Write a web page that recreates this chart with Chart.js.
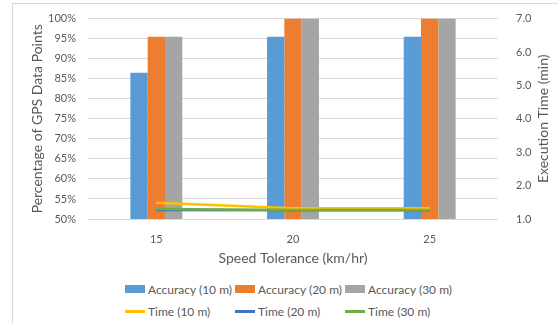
<!DOCTYPE html>
<html>
<head>
<meta charset="utf-8">
<script src="https://cdn.jsdelivr.net/npm/chart.js@4/dist/chart.umd.min.js"></script>
<style>
  body { margin: 0; background: #fff; }
  #frame { position: absolute; left: 12px; top: 3px; width: 560px; height: 330px;
           border-left: 1px solid #d9d9d9; border-top: 1px solid #d9d9d9; }
  #wrap { position: absolute; left: 0; top: 0; width: 558px; height: 270px; }
  #legend { position: absolute; left: 125px; top: 283px; display: grid;
            grid-template-columns: 110px 110px 110px; row-gap: 10px;
            font-family: Lato, sans-serif; font-size: 12px; color: #595959; }
  .item { display: flex; align-items: center; height: 12px; white-space: nowrap; }
  .sw { width: 20px; margin-right: 3px; }
  .box { height: 8px; }
  .ln { height: 3px; }
</style>
</head>
<body>
<div id="frame"></div>
<div id="wrap"><canvas id="chart"></canvas></div>
<div id="legend"></div>
<script>
// speed tolerance categories
var speeds = ["15", "20", "25"];

// accuracy (% of GPS data points)
var acc10 = [86.5, 95.5, 95.5];
var acc20 = [95.5, 100, 100];
var acc30 = [95.5, 100, 100];

// execution time (min)
var time10 = [1.49, 1.32, 1.32];
var time20 = [1.27, 1.26, 1.26];
var time30 = [1.30, 1.27, 1.27];

var textColor = '#595959';
Chart.defaults.font.family = 'Lato, sans-serif';
Chart.defaults.color = textColor;

var datasets = [
    { type: 'bar', label: 'Accuracy (10 m)', data: acc10, backgroundColor: '#5B9BD5', yAxisID: 'y', order: 1 },
    { type: 'bar', label: 'Accuracy (20 m)', data: acc20, backgroundColor: '#ED7D31', yAxisID: 'y', order: 1 },
    { type: 'bar', label: 'Accuracy (30 m)', data: acc30, backgroundColor: '#A5A5A5', yAxisID: 'y', order: 1 },
    { type: 'line', label: 'Time (10 m)', data: time10, borderColor: '#FFC000', backgroundColor: '#FFC000', borderWidth: 2.5, pointRadius: 0, yAxisID: 'y1', order: 0 },
    { type: 'line', label: 'Time (20 m)', data: time20, borderColor: '#4472C4', backgroundColor: '#4472C4', borderWidth: 2.5, pointRadius: 0, yAxisID: 'y1', order: 0 },
    { type: 'line', label: 'Time (30 m)', data: time30, borderColor: '#70AD47', backgroundColor: '#70AD47', borderWidth: 2.5, pointRadius: 0, yAxisID: 'y1', order: -1 }
];

// right axis title reads bottom-to-top like the left one
var rightTitle = {
    id: 'rightTitle',
    afterDraw: function (c) {
        var a = c.chartArea, g = c.ctx;
        g.save();
        g.translate(543, (a.top + a.bottom) / 2);
        g.rotate(-Math.PI / 2);
        g.font = '14px Lato, sans-serif';
        g.fillStyle = textColor;
        g.textAlign = 'center';
        g.textBaseline = 'middle';
        g.fillText('Execution Time (min)', 0, 0);
        g.restore();
    }
};

var ctx = document.getElementById('chart');
var chart = new Chart(ctx, {
    type: 'bar',
    data: { labels: speeds, datasets: datasets },
    plugins: [rightTitle],
    options: {
        responsive: true,
        maintainAspectRatio: false,
        animation: false,
        layout: { padding: { top: 16, left: 0, right: 0, bottom: 0 } },
        datasets: { bar: { categoryPercentage: 0.38, barPercentage: 1.0 } },
        plugins: { legend: { display: false }, tooltip: { enabled: false } },
        scales: {
            x: {
                grid: { display: false },
                border: { display: false },
                ticks: { font: { size: 11 }, padding: 6 },
                title: { display: true, text: 'Speed Tolerance (km/hr)', font: { size: 14 }, padding: { top: 0, bottom: 3 } },
                afterFit: function (s) { s.height = 51; }
            },
            y: {
                position: 'left',
                min: 50, max: 100,
                grid: { color: '#d9d9d9', drawTicks: false },
                border: { display: false },
                ticks: { stepSize: 5, padding: 12, font: { size: 11 },
                         callback: function (v) { return v + '%'; } },
                title: { display: true, text: 'Percentage of GPS Data Points', font: { size: 14 }, padding: { top: 29, bottom: 0 } },
                afterFit: function (s) { s.width = 88; }
            },
            y1: {
                position: 'right',
                min: 1, max: 7,
                grid: { display: false },
                border: { display: false },
                ticks: { stepSize: 1, padding: 10, font: { size: 11 },
                         callback: function (v) { return v.toFixed(1); } },
                afterFit: function (s) { s.width = 60; }
            }
        }
    }
});

// legend laid out like the spreadsheet one: two rows, three columns
var legend = document.getElementById('legend');
datasets.forEach(function (d) {
    var item = document.createElement('div');
    item.className = 'item';
    var sw = document.createElement('span');
    sw.className = 'sw ' + (d.type === 'bar' ? 'box' : 'ln');
    sw.style.background = d.backgroundColor;
    item.appendChild(sw);
    item.appendChild(document.createTextNode(d.label));
    legend.appendChild(item);
});
</script>
</body>
</html>
